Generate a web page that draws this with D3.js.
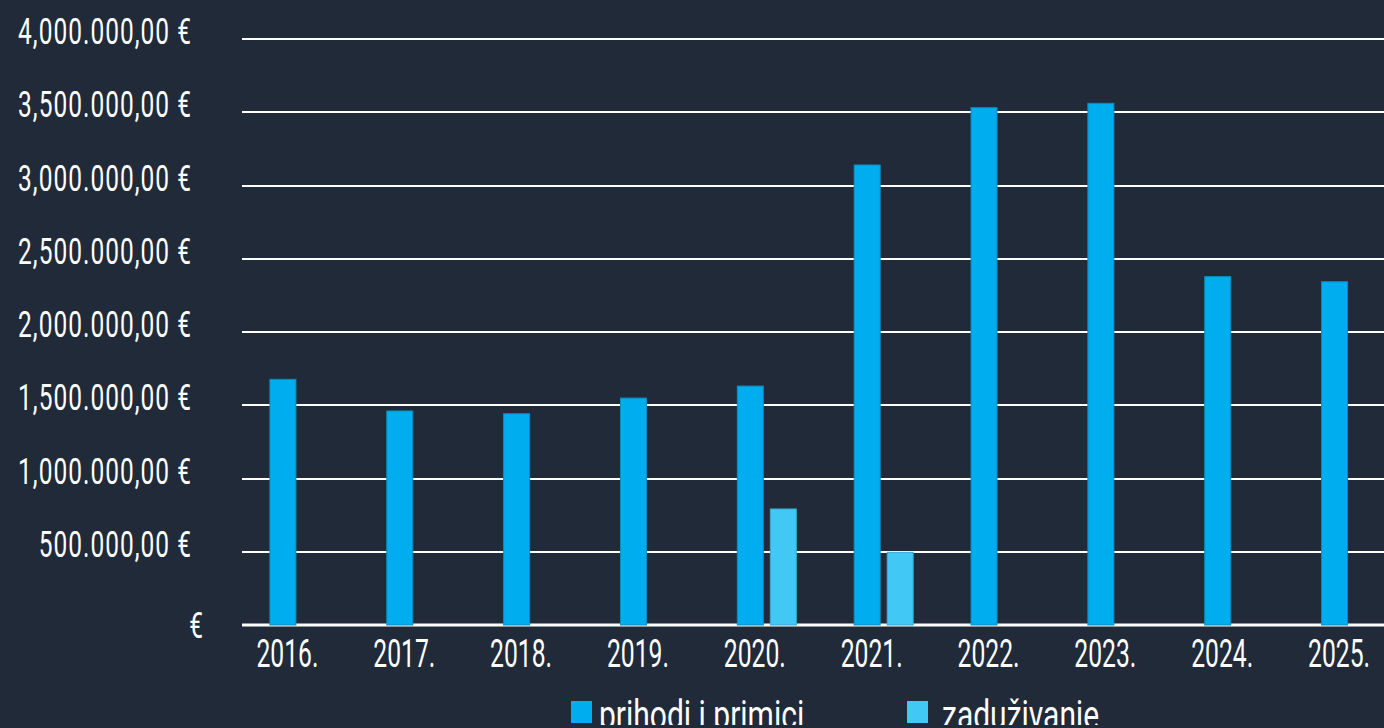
<!DOCTYPE html>
<html>
<head>
<meta charset="utf-8">
<script src="https://cdn.jsdelivr.net/npm/d3@7"></script>
<style>
  html, body { margin: 0; padding: 0; background: #212a39; overflow: hidden; }
  text { font-family: Roboto, "Noto Sans", sans-serif; fill: #ffffff; }
</style>
</head>
<body>
<svg id="chart" width="1384" height="728"></svg>
<script>
// data
var years = ["2016.", "2017.", "2018.", "2019.", "2020.", "2021.", "2022.", "2023.", "2024.", "2025."];
var prihodi = [1677000, 1461000, 1442000, 1549000, 1631000, 3140000, 3531000, 3561000, 2378000, 2343000];
var zaduzivanje = [0, 0, 0, 0, 792000, 496000, 0, 0, 0, 0];
var seriesNames = ["prihodi i primici", "zaduživanje"];
var seriesColors = ["#00adef", "#42c8f5"];
var yTicks = [0, 500000, 1000000, 1500000, 2000000, 2500000, 3000000, 3500000, 4000000];
var yTickLabels = ["€", "500.000,00 €", "1,000.000,00 €", "1,500.000,00 €", "2,000.000,00 €",
                   "2,500.000,00 €", "3,000.000,00 €", "3,500.000,00 €", "4,000.000,00 €"];

var svg = d3.select("#chart");

var rows = years.map(function(y, i) {
  return { year: y, values: [prihodi[i], zaduzivanje[i]] };
});

var x0 = d3.scaleBand().domain(years).range([241, 1409.5])
  .paddingInner(0.495).paddingOuter(0.2475);
var x1 = d3.scaleBand().domain(seriesNames).range([0, x0.bandwidth()]).paddingInner(0.212);
var y = d3.scaleLinear().domain([0, 4000000]).range([625, 39]);

//gridlines
svg.append("g").selectAll("line")
  .data(yTicks)
  .enter().append("line")
  .attr("x1", 242).attr("x2", 1384)
  .attr("y1", d => Math.round(y(d))).attr("y2", d => Math.round(y(d)))
  .attr("stroke", "#ffffff")
  .attr("stroke-width", d => d === 0 ? 3 : 2);

//y labels
svg.append("g").selectAll("text")
  .data(yTicks)
  .enter().append("text")
  .attr("text-anchor", "end")
  .attr("font-size", 36)
  .attr("letter-spacing", 1.5)
  .attr("transform", d => d === 0
      ? `translate(204, ${y(d) + 13}) scale(0.68,1)`
      : `translate(192, ${y(d) - 8 + 13}) scale(0.68,1)`)
  .text((d, i) => yTickLabels[i]);

//bars
var groups = svg.append("g").selectAll("g")
  .data(rows)
  .enter().append("g")
  .attr("transform", d => `translate(${x0(d.year)},0)`);

groups.selectAll("rect")
  .data(d => d.values.map((v, i) => ({ key: seriesNames[i], value: v, idx: i })).filter(e => e.value > 0))
  .enter().append("rect")
  .attr("x", e => x1(e.key))
  .attr("y", e => y(e.value))
  .attr("width", x1.bandwidth())
  .attr("height", e => y(0) - y(e.value))
  .attr("fill", e => seriesColors[e.idx])
  .attr("stroke", e => e.idx === 0 ? "#0d8cc0" : "#3aa9d0")
  .attr("stroke-width", 1);

//x labels
svg.append("g").selectAll("text")
  .data(years)
  .enter().append("text")
  .attr("text-anchor", "middle")
  .attr("font-size", 38)
  .attr("transform", d => `translate(${x0(d) + x0.bandwidth() / 2 - 12}, 667) scale(0.65,1)`)
  .text(d => d);

//legend, cut off at the bottom like the original
svg.append("clipPath").attr("id", "legclip")
  .append("rect").attr("x", 0).attr("y", 0).attr("width", 1384).attr("height", 725);

var legend = svg.append("g").attr("clip-path", "url(#legclip)");
var legX = [571, 907];
var legendItems = legend.selectAll("g")
  .data(seriesNames)
  .enter().append("g")
  .attr("transform", (d, i) => `translate(${legX[i]},0)`);

legendItems.append("rect")
  .attr("x", 0).attr("y", 701)
  .attr("width", 21).attr("height", 22)
  .attr("fill", (d, i) => seriesColors[i]);

legendItems.append("text")
  .attr("font-size", 40)
  .attr("transform", (d, i) => `translate(${i === 0 ? 28 : 35}, 729) scale(0.75,1)`)
  .text(d => d);
</script>
</body>
</html>
